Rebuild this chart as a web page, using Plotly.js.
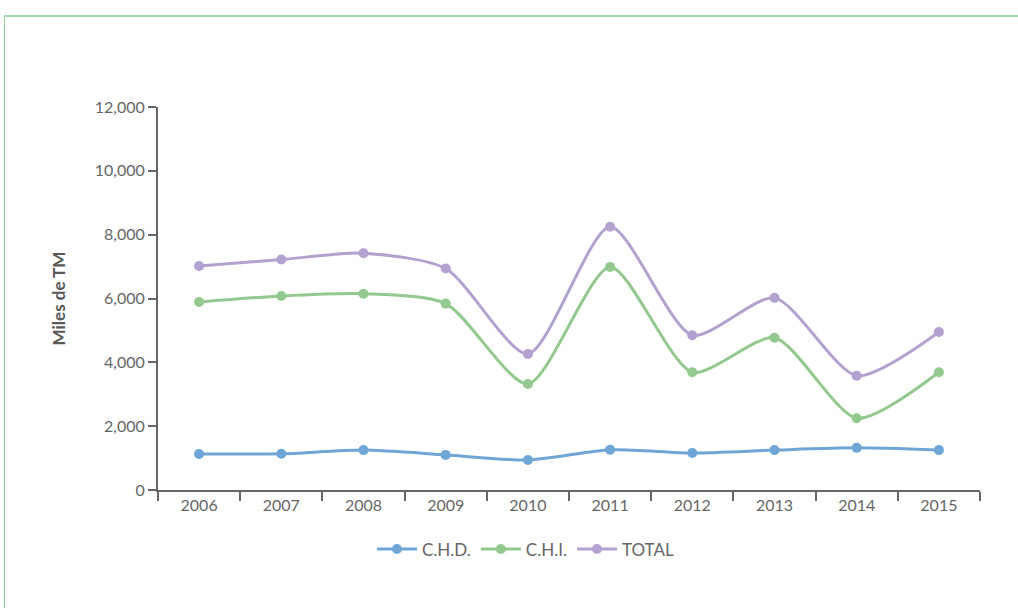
<!DOCTYPE html>
<html>
<head>
<meta charset="utf-8">
<script src="https://cdn.plot.ly/plotly-3.0.1.min.js"></script>
<style>
html,body{margin:0;padding:0;background:#fff;}
#frame{position:absolute;left:4px;top:15px;width:1014px;height:593px;border-left:1px solid #8fd39a;border-top:2px solid #a8d8ad;}
#chart{position:absolute;left:0;top:0;width:1018px;height:608px;}
</style>
</head>
<body>
<div id="frame"></div>
<div id="chart"></div>
<script>
const years = ['2006','2007','2008','2009','2010','2011','2012','2013','2014','2015'];
const chd = [1130, 1135, 1250, 1100, 940, 1260, 1160, 1250, 1320, 1250];
const chi = [5890, 6080, 6150, 5840, 3320, 6990, 3690, 4770, 2250, 3690];
const total = [7020, 7220, 7420, 6940, 4260, 8250, 4850, 6020, 3580, 4950];
const yTicks = [0, 2000, 4000, 6000, 8000, 10000, 12000];

function series(name, y, color) {
  return {
    x: years, y: y, name: name, type: 'scatter', mode: 'lines+markers',
    line: {color: color, width: 3, shape: 'spline', smoothing: 0.7},
    marker: {color: color, size: 10}
  };
}

const data = [
  series('C.H.D.', chd, '#6fa6d6'),
  series('C.H.I.', chi, '#93c98e'),
  series('TOTAL', total, '#b3a2d0')
];

const fam = 'Lato, "Open Sans", sans-serif';

const layout = {
  width: 1018, height: 608,
  margin: {l: 158, r: 38, t: 107, b: 118},
  paper_bgcolor: 'rgba(0,0,0,0)', plot_bgcolor: 'rgba(0,0,0,0)',
  font: {family: fam, color: '#666666', size: 16},
  showlegend: true,
  legend: {orientation: 'h', x: 0.447, xanchor: 'center', y: -0.155, yanchor: 'middle',
           font: {family: fam, color: '#666666', size: 17}, itemwidth: 40, tracegroupgap: 0},
  xaxis: {
    type: 'category', range: [-0.5, 9.5], tickson: 'boundaries',
    ticks: 'outside', ticklen: 9, tickwidth: 2, tickcolor: '#666666',
    showline: true, linecolor: '#666666', linewidth: 2,
    showgrid: false, zeroline: false, fixedrange: true,
    tickfont: {family: fam, color: '#666666', size: 16}
  },
  yaxis: {
    range: [0, 12000], tickvals: yTicks, tickformat: ',',
    ticks: 'outside', ticklen: 8, tickwidth: 2, tickcolor: '#666666',
    showline: true, linecolor: '#666666', linewidth: 2,
    showgrid: false, zeroline: false,
    tickfont: {family: fam, color: '#666666', size: 16},
    title: {text: '<b>Miles de TM</b>', standoff: 25,
            font: {family: fam, color: '#595959', size: 17}}
  }
};

Plotly.newPlot('chart', data, layout, {displayModeBar: false, staticPlot: true});
</script>
</body>
</html>
